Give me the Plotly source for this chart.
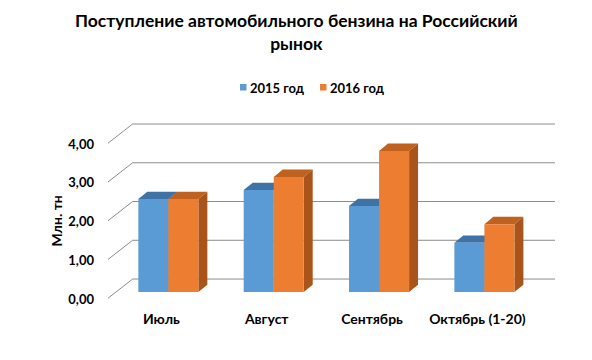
import plotly.graph_objects as go

categories = ["Июль", "Август", "Сентябрь", "Октябрь (1-20)"]
series_names = ["2015 год", "2016 год"]
values_2015 = [2.40, 2.63, 2.22, 1.27]
values_2016 = [2.40, 2.97, 3.64, 1.75]
y_ticks = [0, 1, 2, 3, 4]
y_tick_labels = ["0,00", "1,00", "2,00", "3,00", "4,00"]

front_colors = ["#5B9BD5", "#ED7D31"]
top_colors = ["#3F73A6", "#C0621F"]
side_colors = ["#356594", "#A9541A"]

FONT = "Lato"
bargap = 0.43
bar_w = (1 - bargap) / 2
dx = 0.085     # depth offset (category units)
dy = 0.19      # depth offset (value units)
wall_shift = 0.335
label_shift = -0.18

# page pixel -> paper helpers (plot area at page px x 108..555, y 120..300)
def px(x):
    return (x - 108) / 447.0

def py(y):
    return (300 - y) / 180.0

fig = go.Figure()
series = [values_2015, values_2016]
x_idx = list(range(len(categories)))
for s, (name, vals) in enumerate(zip(series_names, series)):
    fig.add_trace(go.Bar(
        x=x_idx, y=vals, name=name, showlegend=False,
        marker=dict(color=front_colors[s], line=dict(width=0)),
        hoverinfo="x+y",
    ))

shapes = []
for v in y_ticks:
    shapes.append(dict(type="line", xref="paper", yref="y",
                       x0=0.055, x1=1.0, y0=v + wall_shift, y1=v + wall_shift,
                       line=dict(color="#8C8C8C", width=1), layer="below"))
    shapes.append(dict(type="line", xref="paper", yref="y",
                       x0=0.0, x1=0.055, y0=v + label_shift + 0.02, y1=v + wall_shift,
                       line=dict(color="#8C8C8C", width=1), layer="below"))

for s, vals in enumerate(series):
    for i, v in enumerate(vals):
        x0 = i - bar_w + s * bar_w
        x1 = x0 + bar_w
        top = f"M {x0} {v} L {x1} {v} L {x1 + dx} {v + dy} L {x0 + dx} {v + dy} Z"
        shapes.append(dict(type="path", xref="x", yref="y", path=top,
                           fillcolor=top_colors[s], line=dict(width=0), layer="below"))
        side = f"M {x1} 0 L {x1 + dx} {dy} L {x1 + dx} {v + dy} L {x1} {v} Z"
        shapes.append(dict(type="path", xref="x", yref="y", path=side,
                           fillcolor=side_colors[s], line=dict(width=0), layer="below"))

# legend (custom, to match the compact Excel legend)
legend_sq_x = [240, 320]
legend_txt_x = [248, 328]
annotations = []
for s, name in enumerate(series_names):
    shapes.append(dict(type="rect", xref="paper", yref="paper",
                       x0=px(legend_sq_x[s]), x1=px(legend_sq_x[s] + 6.5),
                       y0=py(90.5), y1=py(84),
                       fillcolor=front_colors[s], line=dict(width=0)))
    annotations.append(dict(text=name, xref="paper", yref="paper",
                            x=px(legend_txt_x[s]), y=py(88), xanchor="left", yanchor="middle",
                            showarrow=False,
                            font=dict(family=FONT, size=13, color="#000000", weight="bold")))

annotations.append(dict(text="Поступление автомобильного бензина на Российский<br>рынок",
                        xref="paper", yref="paper", x=px(296), y=py(8),
                        xanchor="center", yanchor="top", showarrow=False,
                        font=dict(family=FONT, size=17.5, color="#000000", weight="bold")))
annotations.append(dict(text="Млн. тн", xref="paper", yref="paper", x=px(55.5), y=py(221),
                        xanchor="center", yanchor="middle", textangle=-90, showarrow=False,
                        font=dict(family=FONT, size=14, color="#000000", weight="bold")))

fig.update_layout(
    width=592, height=360,
    margin=dict(l=100, r=45, t=112, b=68, autoexpand=False),
    paper_bgcolor="white", plot_bgcolor="rgba(0,0,0,0)",
    barmode="group", bargap=bargap, bargroupgap=0,
    shapes=shapes, annotations=annotations, showlegend=False,
    font=dict(family=FONT, color="#000000"),
    xaxis=dict(range=[-0.573, 3.67], tickvals=x_idx, ticktext=categories,
               showgrid=False, zeroline=False, showline=False,
               ticks="", ticklabelstandoff=9, ticklabelshift=-7,
               tickfont=dict(family=FONT, size=14, color="#000000", weight="bold")),
    yaxis=dict(range=[-0.206, 4.439], tickvals=[v + label_shift for v in y_ticks],
               ticktext=y_tick_labels,
               showgrid=False, zeroline=False, showline=False, ticks="",
               ticklabelstandoff=13,
               tickfont=dict(family=FONT, size=13, color="#000000", weight="bold")),
)

fig.write_html("out.html")
